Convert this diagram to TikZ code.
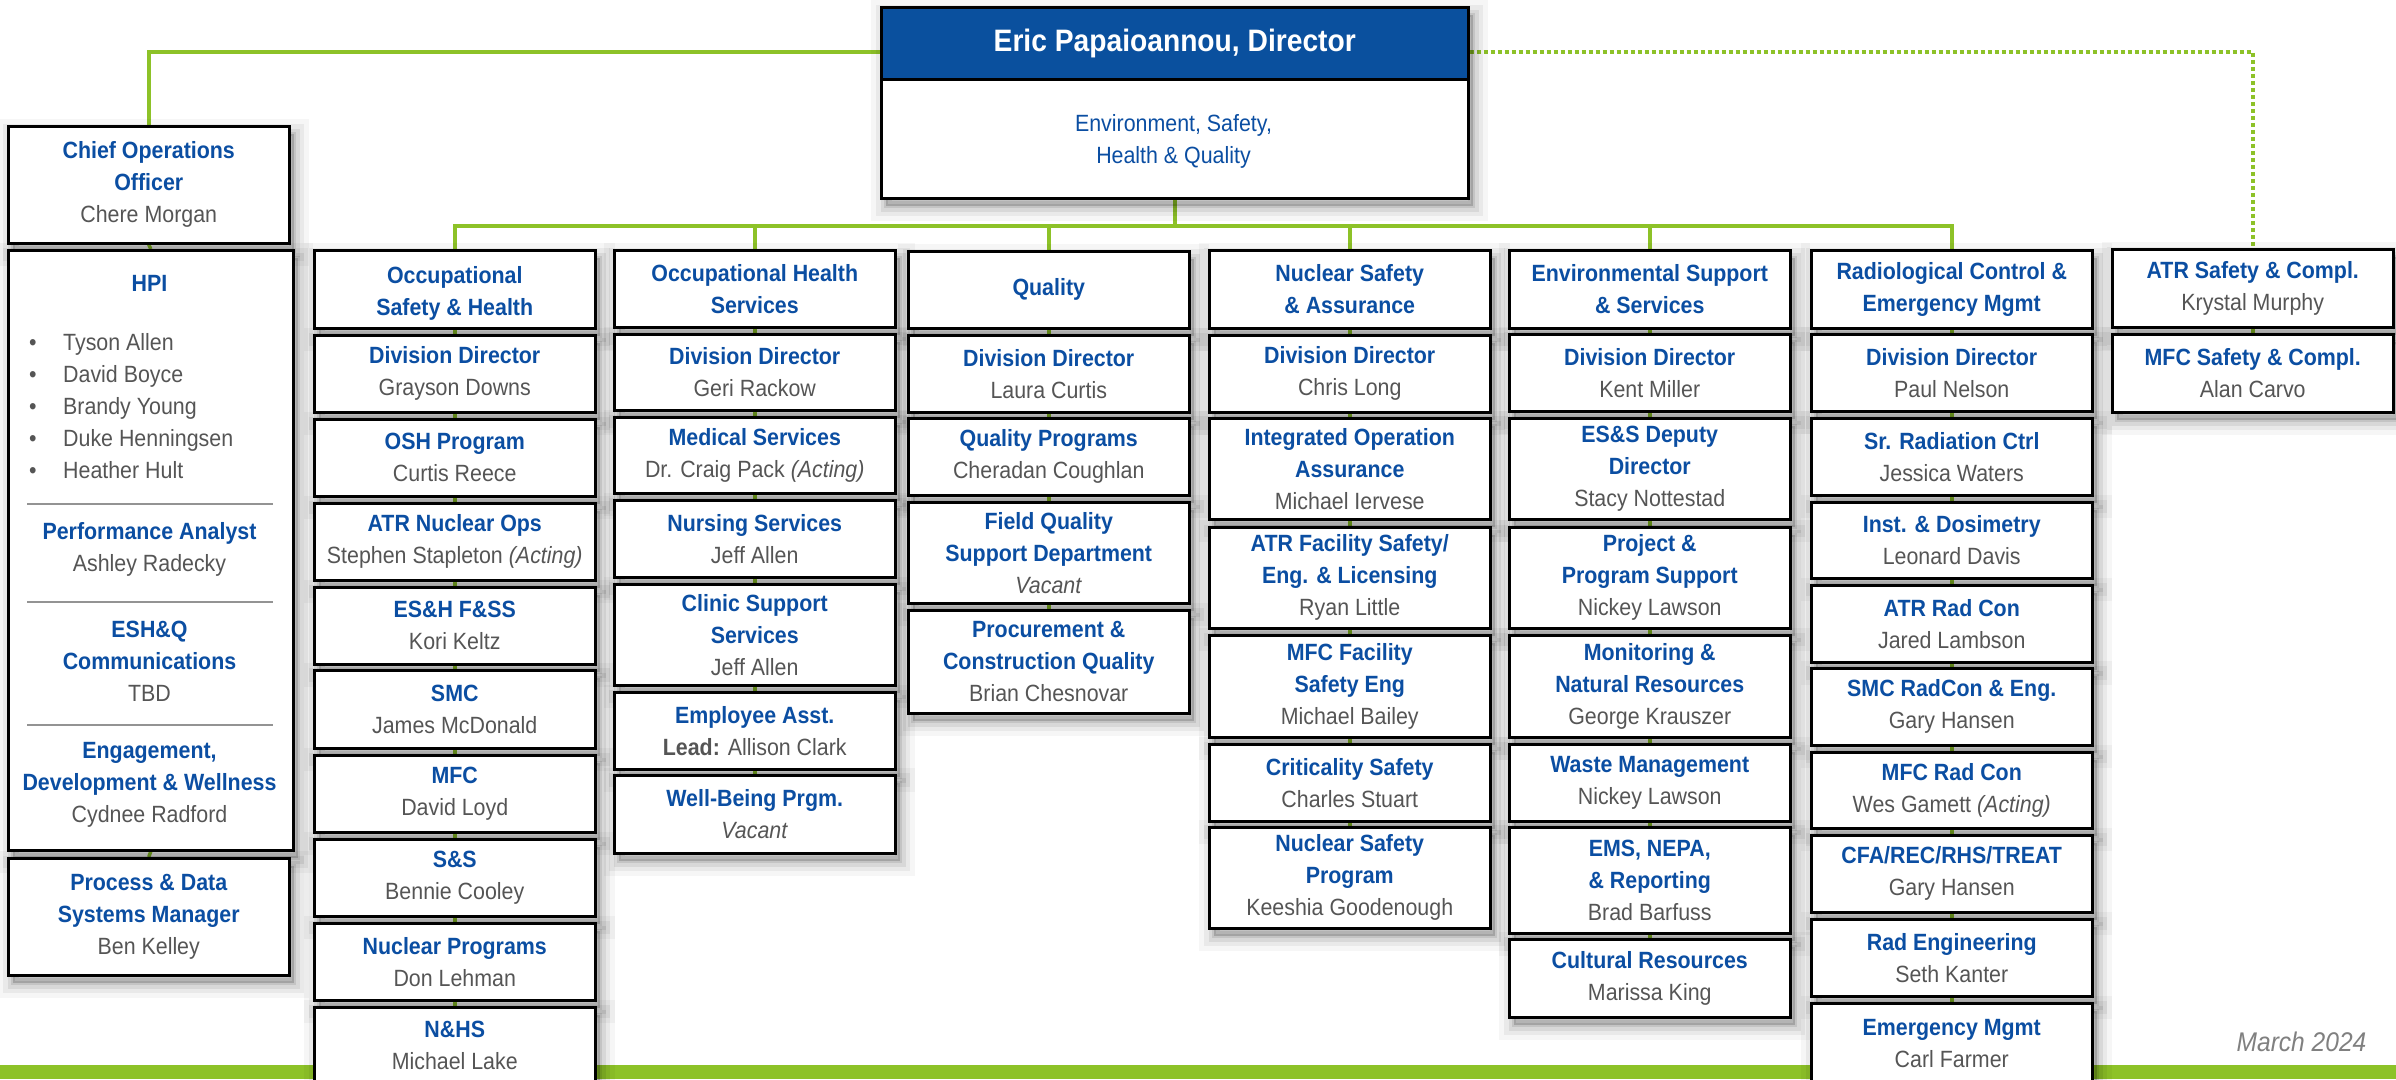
\documentclass[tikz,border=0pt]{standalone}
\usepackage{fontspec}
\setmainfont{Liberation Sans}[FakeStretch=0.91]
\definecolor{lgreen}{RGB}{141,194,40}
\definecolor{tblue}{RGB}{11,78,162}
\definecolor{hblue}{RGB}{10,80,158}
\definecolor{ngray}{RGB}{85,85,85}
\newcommand\tb[1]{{\bfseries\color{tblue}#1}}
\newcommand\fs{\fontsize{23.5}{32}\selectfont}
\newcommand\obox[5]{\node[obox, minimum height=#4pt] (#1) at (#2,#3) {#5};}
\pgfdeclarelayer{bg}
\pgfsetlayers{bg,main}
\begin{document}
\begin{tikzpicture}[x=1pt,y=-1pt,
  boxshadow/.style={
    preaction={draw=black, draw opacity=0.035, line width=30pt, fill=black, fill opacity=0.05, transform canvas={shift={(5pt,-8pt)}}},
    preaction={draw=black, draw opacity=0.05, line width=20pt, transform canvas={shift={(5pt,-8pt)}}},
    preaction={draw=black, draw opacity=0.07, line width=11pt, transform canvas={shift={(5pt,-8pt)}}},
    preaction={draw=black, draw opacity=0.09, line width=4pt, fill=black, fill opacity=0.12, transform canvas={shift={(5pt,-8pt)}}}},
  obox/.style={boxshadow, anchor=north west, draw=black, line width=2.5pt, fill=white,
    minimum width=281pt, inner sep=1pt, align=center, font=\fs, text=ngray},
  conn/.style={draw=lgreen, line width=3.5pt},
  dotconn/.style={draw=lgreen, line width=3.5pt, dash pattern=on 4pt off 3pt},
  sepline/.style={draw=gray!85, line width=2pt},
  plain/.style={align=center, font=\fs, text=ngray, inner sep=0pt}]
\begin{pgfonlayer}{bg}
\fill[white] (0,0) rectangle (2396,1079);
\fill[lgreen] (0,1065) rectangle (2396,1079);
\end{pgfonlayer}
\useasboundingbox (0,0) rectangle (2396,1079);

% Director
\node[obox, minimum width=587pt, minimum height=191pt] (dir) at (880,6) {};
\node[anchor=north west, draw=black, line width=2.5pt, fill=hblue, minimum width=587pt,
  minimum height=72pt, text=white, font=\fontsize{31}{36}\selectfont\bfseries] (dirh) at (dir.north west) {Eric Papaioannou, Director};
\node[plain, text=tblue] (dirt) at (1173.5,141) {Environment, Safety,\\Health \& Quality};

% Left column
\obox{chief}{7}{125}{117}{\tb{Chief Operations}\\\tb{Officer}\\Chere Morgan}
\node[obox, minimum width=285pt, minimum height=600pt] (hpi) at (7,249) {};
\obox{pds}{7}{857}{117}{\tb{Process \& Data}\\\tb{Systems Manager}\\Ben Kelley}
\node[plain] (hpit) at (149.5,283) {\tb{HPI}};
\node[plain, align=left, anchor=west] (hpil) at (29,406) {\makebox[34pt][l]{•}Tyson Allen\\\makebox[34pt][l]{•}David Boyce\\\makebox[34pt][l]{•}Brandy Young\\\makebox[34pt][l]{•}Duke Henningsen\\\makebox[34pt][l]{•}Heather Hult};
\draw[sepline] (27,504) -- (273,504);
\node[plain] (pa) at (149.5,549.5) {\tb{Performance Analyst}\\Ashley Radecky};
\draw[sepline] (27,602) -- (273,602);
\node[plain] (esh) at (149.5,661.5) {\tb{ESH\&Q}\\\tb{Communications}\\TBD};
\draw[sepline] (27,725) -- (273,725);
\node[plain] (edw) at (149.5,785) {\tb{Engagement,}\\\tb{Development \& Wellness}\\Cydnee Radford};

% Column 1
\obox{c1t}{313}{249}{78}{\rule{0pt}{26pt}\tb{Occupational}\\\tb{Safety \& Health}}
\obox{c1a}{313}{334}{77}{\tb{Division Director}\\Grayson Downs}
\obox{c1b}{313}{418}{77}{\tb{OSH Program}\\Curtis Reece}
\obox{c1c}{313}{502}{77}{\tb{ATR Nuclear Ops}\\Stephen Stapleton \textit{(Acting)}}
\obox{c1d}{313}{586}{77}{\tb{ES\&H F\&SS}\\Kori Keltz}
\obox{c1e}{313}{669}{78}{\tb{SMC}\\James McDonald}
\obox{c1f}{313}{754}{77}{\tb{MFC}\\David Loyd}
\obox{c1g}{313}{838}{77}{\tb{S\&S}\\Bennie Cooley}
\obox{c1h}{313}{922}{77}{\tb{Nuclear Programs}\\Don Lehman}
\obox{c1i}{313}{1006}{77}{\tb{N\&HS}\\Michael Lake}

% Column 2
\obox{c2t}{613}{249}{77}{\tb{Occupational Health}\\\tb{Services}}
\obox{c2a}{613}{333}{76}{\tb{Division Director}\\Geri Rackow}
\obox{c2b}{613}{416}{76}{\tb{Medical Services}\\Dr. Craig Pack \textit{(Acting)}}
\obox{c2c}{613}{499}{77}{\tb{Nursing Services}\\Jeff Allen}
\obox{c2d}{613}{583}{101}{\tb{Clinic Support}\\\tb{Services}\\Jeff Allen}
\obox{c2e}{613}{691}{77}{\tb{Employee Asst.}\\\textbf{Lead:} Allison Clark}
\obox{c2f}{613}{774}{78}{\tb{Well-Being Prgm.}\\\textit{Vacant}}

% Column 3
\obox{c3t}{907}{250}{77}{\tb{Quality}}
\obox{c3a}{907}{334}{77}{\tb{Division Director}\\Laura Curtis}
\obox{c3b}{907}{417}{77}{\tb{Quality Programs}\\Cheradan Coughlan}
\obox{c3c}{907}{501}{101}{\tb{Field Quality}\\\tb{Support Department}\\\textit{Vacant}}
\obox{c3d}{907}{609}{103}{\tb{Procurement \&}\\\tb{Construction Quality}\\Brian Chesnovar}

% Column 4
\obox{c4t}{1208}{249}{78}{\tb{Nuclear Safety}\\\tb{\& Assurance}}
\obox{c4a}{1208}{334}{77}{\tb{Division Director}\\Chris Long}
\obox{c4b}{1208}{417}{101}{\tb{Integrated Operation}\\\tb{Assurance}\\Michael Iervese}
\obox{c4c}{1208}{526}{101}{\tb{ATR Facility Safety/}\\\tb{Eng. \& Licensing}\\Ryan Little}
\obox{c4d}{1208}{634}{102}{\tb{MFC Facility}\\\tb{Safety Eng}\\Michael Bailey}
\obox{c4e}{1208}{743}{77}{\tb{Criticality Safety}\\Charles Stuart}
\obox{c4f}{1208}{826}{101}{\tb{Nuclear Safety}\\\tb{Program}\\Keeshia Goodenough}

% Column 5
\obox{c5t}{1508}{249}{78}{\tb{Environmental Support}\\\tb{\& Services}}
\obox{c5a}{1508}{333}{77}{\tb{Division Director}\\Kent Miller}
\obox{c5b}{1508}{417}{101}{\tb{ES\&S Deputy}\\\tb{Director}\\Stacy Nottestad}
\obox{c5c}{1508}{526}{101}{\tb{Project \&}\\\tb{Program Support}\\Nickey Lawson}
\obox{c5d}{1508}{634}{102}{\tb{Monitoring \&}\\\tb{Natural Resources}\\George Krauszer}
\obox{c5e}{1508}{743}{77}{\tb{Waste Management}\\Nickey Lawson}
\obox{c5f}{1508}{826}{106}{\tb{EMS, NEPA,}\\\tb{\& Reporting}\\Brad Barfuss}
\obox{c5g}{1508}{938}{78}{\tb{Cultural Resources}\\Marissa King}

% Column 6
\obox{c6t}{1810}{249}{78}{\tb{Radiological Control \&}\\\tb{Emergency Mgmt}}
\obox{c6a}{1810}{333}{77}{\tb{Division Director}\\Paul Nelson}
\obox{c6b}{1810}{417}{77}{\tb{Sr. Radiation Ctrl}\\Jessica Waters}
\obox{c6c}{1810}{501}{76}{\tb{Inst. \& Dosimetry}\\Leonard Davis}
\obox{c6d}{1810}{584}{77}{\tb{ATR Rad Con}\\Jared Lambson}
\obox{c6e}{1810}{667}{77}{\tb{SMC RadCon \& Eng.}\\Gary Hansen}
\obox{c6f}{1810}{751}{76}{\tb{MFC Rad Con}\\Wes Gamett \textit{(Acting)}}
\obox{c6g}{1810}{834}{77}{\tb{CFA/REC/RHS/TREAT}\\Gary Hansen}
\obox{c6h}{1810}{918}{77}{\tb{Rad Engineering}\\Seth Kanter}
\obox{c6i}{1810}{1002}{80}{\tb{Emergency Mgmt}\\Carl Farmer}

% Column 7
\obox{atr}{2111}{248}{78}{\tb{ATR Safety \& Compl.}\\Krystal Murphy}
\obox{mfcs}{2111}{333}{78}{\tb{MFC Safety \& Compl.}\\Alan Carvo}

\node[font=\fontsize{27}{30}\selectfont\itshape, text=gray, inner sep=0pt] (date) at (2301.5,1042) {March 2024};

% Connectors
\begin{pgfonlayer}{bg}
\coordinate (bus) at (0,226);
\draw[conn] ([yshift=-46pt]dir.north west) -| (chief.north);
\draw[dotconn] ([yshift=-46pt]dir.north east) -| (atr.north);
\draw[conn] (dir.south) -- (dir.south |- bus);
\draw[conn] (c1t.north) |- (bus -| c6t.north) -- (c6t.north);
\foreach \c in {c2t,c3t,c4t,c5t} \draw[conn] (\c.north) -- (\c.north |- bus);
\foreach \a/\b in {chief/hpi,hpi/pds,
  c1t/c1a,c1a/c1b,c1b/c1c,c1c/c1d,c1d/c1e,c1e/c1f,c1f/c1g,c1g/c1h,c1h/c1i,
  c2t/c2a,c2a/c2b,c2b/c2c,c2c/c2d,c2d/c2e,c2e/c2f,
  c3t/c3a,c3a/c3b,c3b/c3c,c3c/c3d,
  c4t/c4a,c4a/c4b,c4b/c4c,c4c/c4d,c4d/c4e,c4e/c4f,
  c5t/c5a,c5a/c5b,c5b/c5c,c5c/c5d,c5d/c5e,c5e/c5f,c5f/c5g,
  c6t/c6a,c6a/c6b,c6b/c6c,c6c/c6d,c6d/c6e,c6e/c6f,c6f/c6g,c6g/c6h,c6h/c6i}
  \draw[conn] (\a.south) -- (\b.north);
\draw[dotconn] (atr.south) -- (mfcs.north);
\end{pgfonlayer}
\end{tikzpicture}
\end{document}
